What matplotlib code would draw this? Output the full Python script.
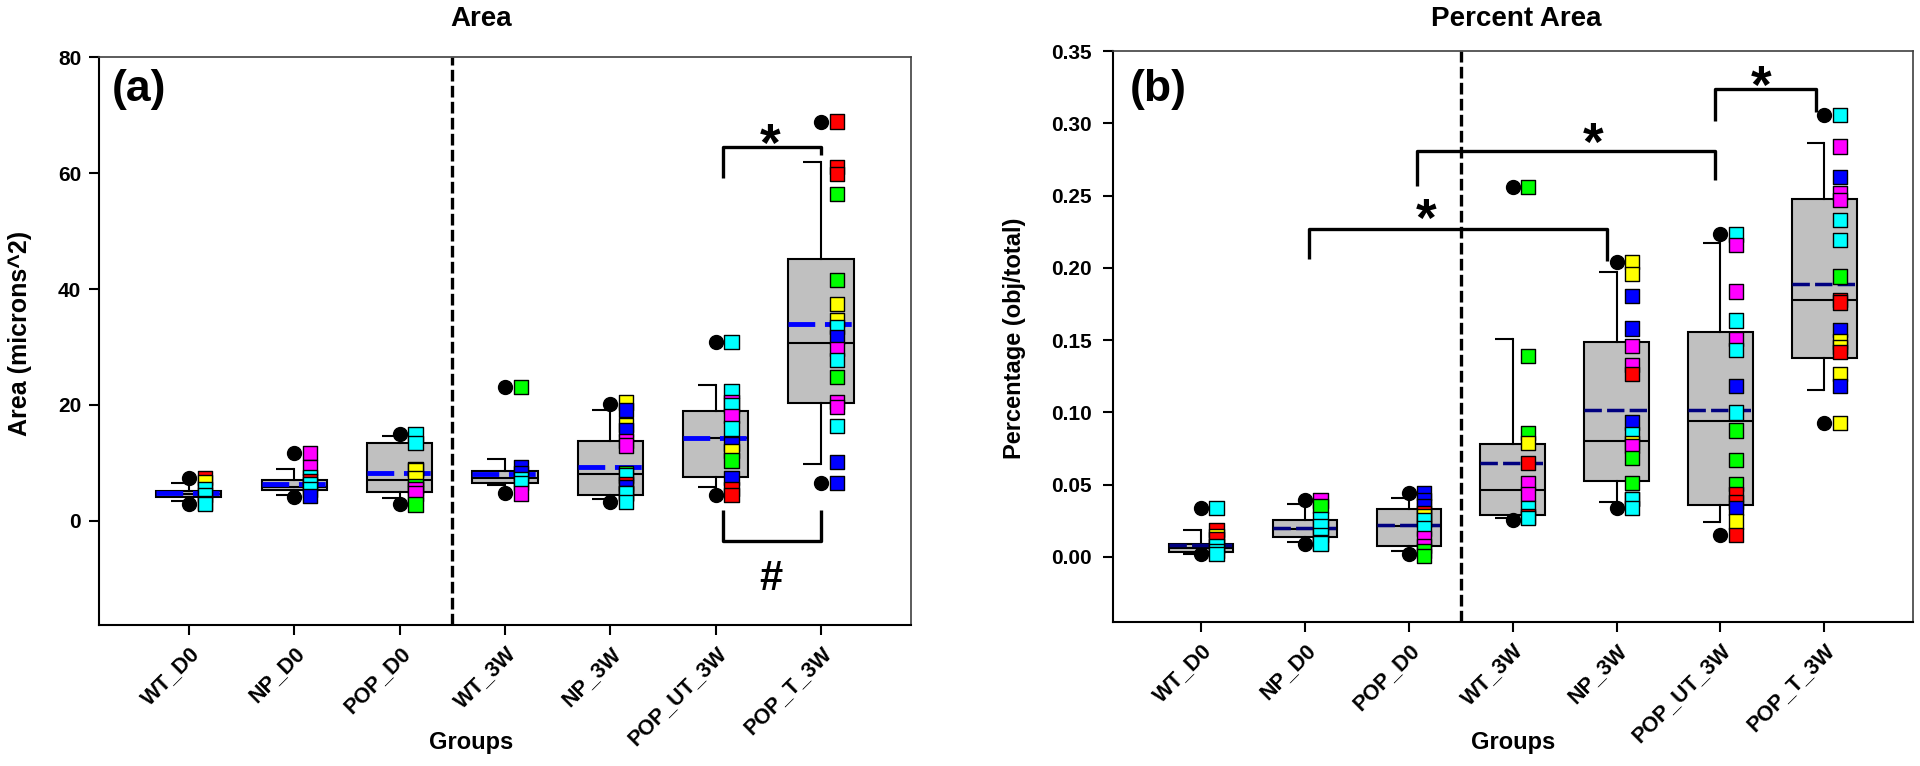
import matplotlib
matplotlib.use("Agg")
import matplotlib.pyplot as plt
import numpy as np

groups = ["WT_D0", "NP_D0", "POP_D0", "WT_3W", "NP_3W", "POP_UT_3W", "POP_T_3W"]

# panel (a): Area
area_q1 = [4.1, 5.35, 4.9, 6.5, 4.4, 7.5, 20.3]
area_med = [4.6, 5.8, 7.1, 7.3, 8.1, 14.2, 30.7]
area_q3 = [5.2, 7.1, 13.4, 8.6, 13.7, 18.9, 45.1]
area_mean = [4.8, 6.3, 8.3, 8.1, 9.3, 14.3, 33.9]
area_lo = [3.4, 4.4, 4.0, 6.1, 3.7, 5.9, 9.8]
area_hi = [6.5, 9.0, 14.7, 10.6, 19.1, 23.4, 61.9]
area_out = [[7.3, 2.9], [11.7, 4.1], [15.0, 2.9], [23.1, 4.7], [20.2, 3.2], [30.8, 4.5], [68.9, 6.5]]
area_pts = [
    [7.4, 6.7, 5.5, 4.5, 3.0, 2.9],
    [11.7, 9.2, 7.6, 6.8, 6.4, 5.4, 4.2],
    [15.0, 13.4, 8.9, 8.7, 7.3, 6.0, 5.5, 4.7, 2.8],
    [23.1, 9.3, 8.3, 7.2, 6.5, 4.7],
    [20.4, 19.1, 16.5, 15.6, 13.8, 13.0, 8.3, 7.8, 6.4, 5.8, 4.8, 4.7, 3.2],
    [30.8, 22.4, 20.5, 19.9, 18.1, 15.9, 13.3, 12.0, 10.4, 7.4, 5.5, 4.5],
    [68.9, 61.1, 59.8, 56.4, 41.5, 37.4, 34.7, 33.4, 31.7, 29.7, 27.7, 24.8, 20.5, 19.6, 16.3, 10.1, 6.5],
]
area_cols = ["ryccgc", "mmcrccb", "ccryygmmg", "gbbccm", "ybybmmgcrbycc", "ccmcmcbygbrr", "rrrggyycbmcgmmcbb"]

# panel (b): Percent Area
pct_q1 = [0.0035, 0.0139, 0.0076, 0.0292, 0.0523, 0.0357, 0.1378]
pct_med = [0.0060, 0.0195, 0.0215, 0.0466, 0.0803, 0.094, 0.1777]
pct_q3 = [0.0093, 0.0255, 0.0329, 0.078, 0.1485, 0.1556, 0.2478]
pct_mean = [0.0081, 0.020, 0.0218, 0.0649, 0.1017, 0.1017, 0.189]
pct_lo = [0.0023, 0.010, 0.0039, 0.0269, 0.038, 0.0245, 0.1153]
pct_hi = [0.0185, 0.0366, 0.0405, 0.151, 0.1972, 0.217, 0.2863]
pct_out = [[0.034, 0.0019], [0.0394, 0.0093], [0.044, 0.0023], [0.256, 0.0257],
           [0.2039, 0.034], [0.2236, 0.015], [0.306, 0.0926]]
pct_pts = [
    [0.0336, 0.0185, 0.0146, 0.012, 0.0076, 0.004, 0.0023],
    [0.039, 0.035, 0.026, 0.021, 0.015, 0.010, 0.0093],
    [0.044, 0.039, 0.035, 0.030, 0.028, 0.0255, 0.0197, 0.0127, 0.0074, 0.004, 0.0007],
    [0.256, 0.139, 0.0858, 0.079, 0.065, 0.051, 0.0435, 0.034, 0.028, 0.027],
    [0.204, 0.196, 0.1806, 0.158, 0.1457, 0.1326, 0.1267, 0.093, 0.085, 0.079, 0.0767, 0.0684, 0.051, 0.040, 0.040, 0.034],
    [0.223, 0.2158, 0.1837, 0.1635, 0.151, 0.1433, 0.118, 0.100, 0.0874, 0.0668, 0.0506, 0.0435, 0.038, 0.034, 0.0245, 0.015],
    [0.306, 0.284, 0.2626, 0.252, 0.247, 0.233, 0.219, 0.194, 0.1777, 0.176, 0.157, 0.149, 0.145, 0.142, 0.1267, 0.118, 0.0926],
]
pct_cols = ["cryrccc", "mgcccrc", "bbbryccmmgg", "gggyrmmcrc", "yybbmmrbcymggrcc", "cmmcmcbcgggrrbyr", "cmbmmccgrrbyyryby"]

colors = dict(r="#ff0000", y="#ffff00", g="#00ff00", b="#0000ff", m="#ff00ff", c="#00ffff")

plt.rcParams["font.family"] = ["Liberation Sans", "DejaVu Sans"]
plt.rcParams["font.weight"] = "bold"

pos = list(range(1, 8))


def draw(ax, q1, med, q3, mean, lo, hi, out, pts, cols, meancolor, meanls, meanlw):
    stats = []
    for i in range(7):
        stats.append(dict(med=med[i], q1=q1[i], q3=q3[i], whislo=lo[i], whishi=hi[i],
                          mean=mean[i], fliers=out[i]))
    ax.bxp(stats, positions=pos, widths=0.62, patch_artist=True, showmeans=True,
           meanline=True, showcaps=False,
           boxprops=dict(facecolor="#c0c0c0", edgecolor="black", linewidth=1.5),
           medianprops=dict(color="black", linewidth=1.5),
           whiskerprops=dict(color="black", linewidth=1.5),
           meanprops=dict(color=meancolor, linestyle=meanls, linewidth=meanlw),
           flierprops=dict(marker="o", markerfacecolor="black", markeredgecolor="black", markersize=10),
           zorder=2)
    # SigmaPlot-style caps, drawn to the left of the whisker
    ax.hlines(lo, [p - 0.17 for p in pos], pos, color="black", lw=1.5, zorder=2)
    ax.hlines(hi, [p - 0.17 for p in pos], pos, color="black", lw=1.5, zorder=2)
    for p, v, c in zip(pos, pts, cols):
        ax.scatter([p + 0.15] * len(v), v, marker="s", s=105, c=[colors[k] for k in c],
                   edgecolors="black", linewidths=1, zorder=4)
    ax.axvline(3.5, color="black", lw=2.4, linestyle=(0, (3.5, 1.3)), zorder=1)
    ax.set_xlim(0.15, 7.85)
    ax.set_xticks(pos)
    ax.set_xticklabels(groups, rotation=45, ha="right", rotation_mode="anchor", fontsize=15.5)
    ax.tick_params(axis="x", direction="out", length=7, width=1.5, pad=6)
    for s in ["left", "bottom"]:
        ax.spines[s].set_linewidth(1.5)
    for s in ["top", "right"]:
        ax.spines[s].set_linewidth(1.2)
        ax.spines[s].set_color("#404040")


def bracket(ax, xs, ys):
    ax.plot(xs, ys, color="black", lw=2.4, solid_capstyle="butt", zorder=5)


def mark(ax, x, y, s, size, off):
    ax.annotate(s, (x, y), xytext=(0, -off), textcoords="offset points", ha="center",
                va="baseline", fontsize=size, fontweight="bold")


fig = plt.figure(figsize=(19.2, 7.66), dpi=100)
ax1 = fig.add_axes([0.0517, 0.1841, 0.4226, 0.7411])
ax2 = fig.add_axes([0.5795, 0.1880, 0.4167, 0.7454])

draw(ax1, area_q1, area_med, area_q3, area_mean, area_lo, area_hi, area_out, area_pts, area_cols,
     "#0000ff", (0, (5.5, 2)), 3.5)
ax1.set_ylim(-18, 80)
ax1.set_yticks([0, 20, 40, 60, 80])
ax1.tick_params(axis="y", direction="out", length=7, width=1.5, pad=6, labelsize=15)
ax1.set_ylabel("Area (microns^2)", fontsize=18, fontweight="bold")
ax1.yaxis.set_label_coords(-0.083, 0.514)
ax1.text(0.015, 0.979, "(a)", transform=ax1.transAxes, fontsize=32, fontweight="bold",
         va="top", ha="left")
bracket(ax1, [6.07, 6.07, 7.0, 7.0], [59.2, 64.6, 64.6, 63.1])
mark(ax1, 6.52, 67.4, "*", 38, 22)
bracket(ax1, [6.07, 6.07, 7.0, 7.0], [1.8, -3.5, -3.5, 1.8])
mark(ax1, 6.52, -9.3, "#", 30, 11)

draw(ax2, pct_q1, pct_med, pct_q3, pct_mean, pct_lo, pct_hi, pct_out, pct_pts, pct_cols,
     "#000080", (0, (5, 1.5)), 2.5)
ax2.set_ylim(-0.045, 0.35)
ax2.set_yticks(np.arange(0, 0.351, 0.05))
ax2.set_yticklabels(["%.2f" % t for t in np.arange(0, 0.351, 0.05)])
ax2.tick_params(axis="y", direction="out", length=7, width=1.5, pad=8, labelsize=15)
ax2.set_ylabel("Percentage (obj/total)", fontsize=17, fontweight="bold")
ax2.yaxis.set_label_coords(-0.108, 0.496)
ax2.text(0.022, 0.968, "(b)", transform=ax2.transAxes, fontsize=32, fontweight="bold",
         va="top", ha="left")
bracket(ax2, [2.04, 2.04, 4.91, 4.91], [0.206, 0.2267, 0.2267, 0.205])
mark(ax2, 3.17, 0.243, "*", 38, 22)
bracket(ax2, [3.08, 3.08, 5.95, 5.95], [0.2566, 0.281, 0.281, 0.2606])
mark(ax2, 4.77, 0.296, "*", 38, 22)
bracket(ax2, [5.95, 5.95, 6.92, 6.92], [0.3016, 0.324, 0.324, 0.308])
mark(ax2, 6.39, 0.335, "*", 38, 22)

fig.text(481 / 1920, 1 - 19 / 766, "Area", ha="center", va="center", fontsize=20,
         fontweight="bold")
fig.text(1516 / 1920, 1 - 19 / 766, "Percent Area", ha="center", va="center", fontsize=20,
         fontweight="bold")
fig.text(471 / 1920, 1 - 743 / 766, "Groups", ha="center", va="center", fontsize=17,
         fontweight="bold")
fig.text(1513 / 1920, 1 - 743 / 766, "Groups", ha="center", va="center", fontsize=17,
         fontweight="bold")

fig.savefig("out.png", dpi=100)
